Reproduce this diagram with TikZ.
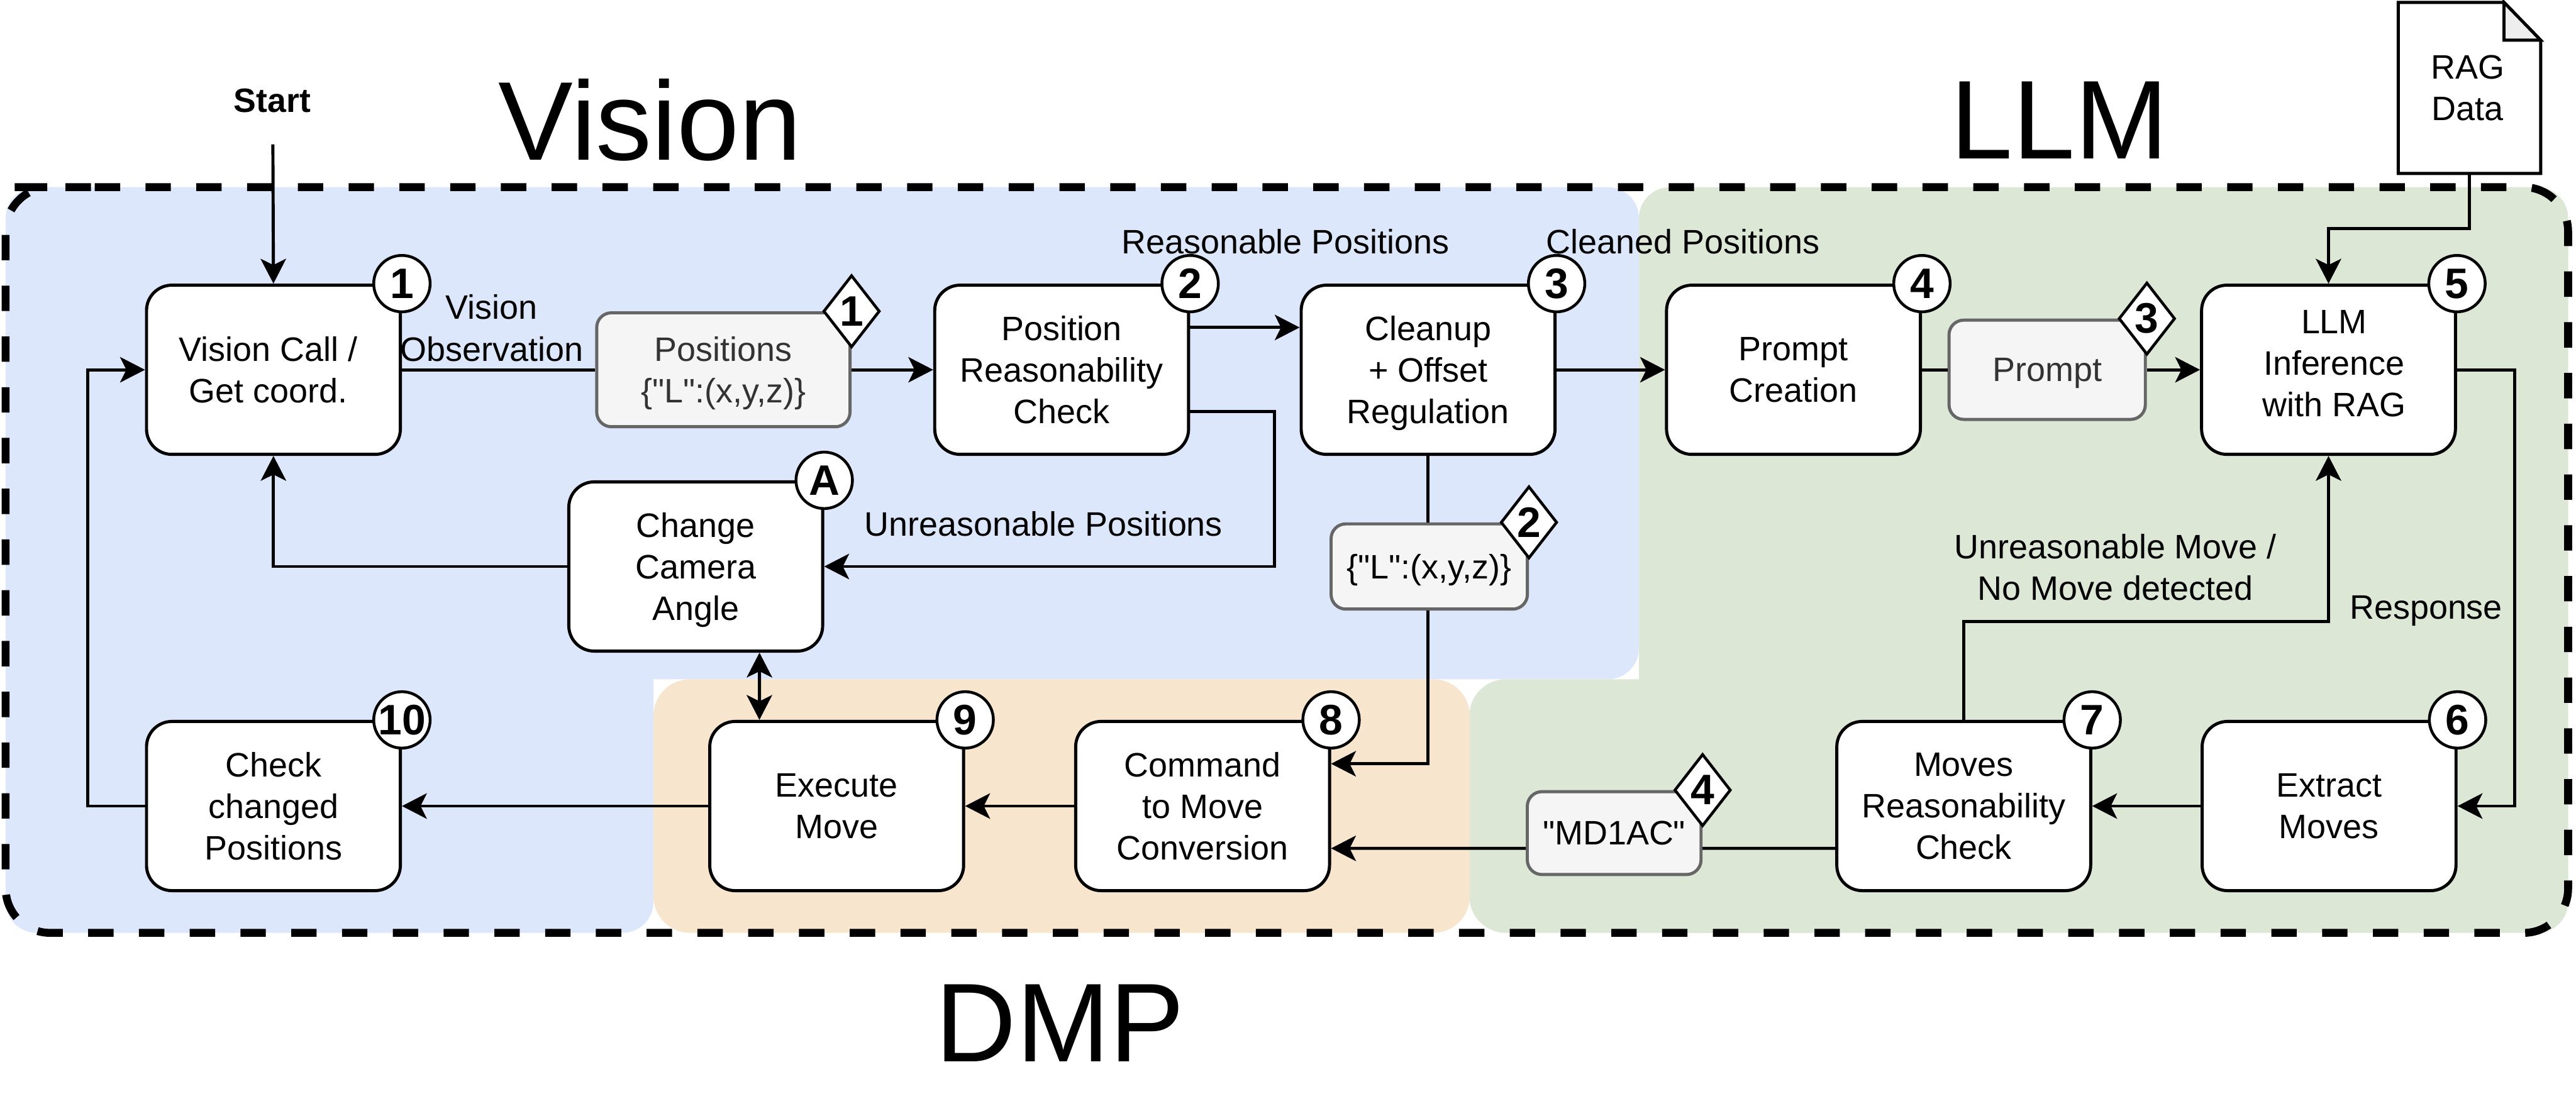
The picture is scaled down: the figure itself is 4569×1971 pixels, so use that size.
\documentclass[tikz,border=0pt]{standalone}
\usepackage{fontspec}
\setmainfont{Liberation Sans}
\newfontfamily\qfont{Liberation Sans}
\usetikzlibrary{arrows.meta,shapes.geometric}
\definecolor{bluebg}{HTML}{DCE7FB}
\definecolor{greenbg}{HTML}{DCE7D6}
\definecolor{orangebg}{HTML}{F8E5CE}
\definecolor{greyfill}{HTML}{F5F5F5}
\definecolor{greyline}{HTML}{666666}
\definecolor{greytext}{HTML}{333333}
\definecolor{foldfill}{HTML}{EEEEEE}
\newcommand{\bodyfont}{\fontsize{17.1}{21}\selectfont}
\newcommand{\numfont}{\fontsize{21.5}{24}\selectfont\bfseries}
\newcommand{\bigfont}{\fontsize{56.5}{60}\selectfont}
\newcommand{\nodepth}[1]{\raisebox{0pt}[\height][0pt]{#1}}
\tikzset{
  bgshape/.style={rounded corners=0.55cm},
  procbox/.style={draw=black,fill=white,line width=0.055cm,rounded corners=0.45cm,
    minimum width=4.5cm,minimum height=3cm,inner sep=0pt,align=center,font=\bodyfont},
  databox/.style={draw=greyline,fill=greyfill,line width=0.055cm,rounded corners=0.26cm,
    inner sep=0pt,align=center,font=\bodyfont\qfont},
  numc/.style={circle,draw=black,fill=white,line width=0.05cm,minimum size=1cm,inner sep=0pt,font=\numfont},
  numd/.style={diamond,aspect=0.78,draw=black,fill=white,line width=0.05cm,minimum width=1cm,minimum height=1.28cm,inner sep=0pt,font=\numfont},
  lab/.style={inner sep=0pt,align=center,font=\bodyfont},
  biglab/.style={inner sep=0pt,font=\bigfont},
  conn/.style={draw=black,line width=0.055cm},
  arr/.style={conn,-{Stealth[length=0.44cm,width=0.45cm,inset=0.11cm]}},
  dbl/.style={conn,{Stealth[length=0.44cm,width=0.45cm,inset=0.11cm]}-{Stealth[length=0.44cm,width=0.45cm,inset=0.11cm]}},
  outer/.style={draw=black,line width=0.14cm,dash pattern=on 0.45cm off 0.45cm,rounded corners=0.79cm},
}
\begin{document}
\begin{tikzpicture}[x=0.01cm,y=-0.01cm]
\useasboundingbox (0,0) rectangle (4569,1971);
% coloured regions
\fill[bluebg,bgshape] (10,332) rectangle (2907,1205);
\fill[bluebg,bgshape] (10,700) rectangle (1159,1655);
\fill[greenbg,bgshape] (2907,332) rectangle (4555,1655);
\fill[greenbg,rounded corners=0.65cm] (2606,1205) rectangle (3300,1655);
\fill[orangebg,rounded corners=0.65cm] (1159,1205) rectangle (2607,1655);
% outer dashed frame
\draw[outer] (89,332) -- (4555,332) -- (4555,1655) -- (10,1655) -- (10,332) -- cycle;
% titles
\node[biglab] (tvision) at (1153,213) {Vision};
\node[biglab] (tllm) at (3653,213) {LLM};
\node[biglab] (tdmp) at (1880,1815) {DMP};
% process boxes
\node[procbox] (b1) at (485,656) {Vision Call /\rule{0.18cm}{0pt}\\Get coord.\rule{0.18cm}{0pt}};
\node[procbox] (b2) at (1883,656) {Position\\Reasonability\\Check};
\node[procbox] (b3) at (2533,656) {Cleanup\\+ Offset\\\nodepth{Regulation}};
\node[procbox] (b4) at (3181,656) {Prompt\\Creation};
\node[procbox] (b5) at (4130,656) {};
\node[lab] (b5t) at (4140,645) {LLM\\Inference\\with RAG};
\node[procbox] (ba) at (1234,1005) {Change\\Camera\\\nodepth{Angle}};
\node[procbox] (b6) at (4131,1430) {Extract\\Moves};
\node[procbox] (b7) at (3483,1430) {Moves\\Reasonability\\Check};
\node[procbox] (b8) at (2133,1430) {Command\\to Move\\Conversion};
\node[procbox] (b9) at (1484,1430) {Execute\\Move};
\node[procbox] (b10) at (485,1430) {Check\\changed\\Positions};
% data boxes
\node[databox,text=greytext,minimum width=4.49cm,minimum height=2.02cm] (d1) at (1283,656) {Positions\\\nodepth{\{"L":(x,y,z)\}}};
\node[databox,minimum width=3.48cm,minimum height=1.51cm] (d2) at (2535,1005) {\nodepth{\{"L":(x,y,z)\}}};
\node[databox,text=greytext,minimum width=3.48cm,minimum height=1.76cm] (d3) at (3631,656) {\nodepth{Prompt}};
\node[databox,minimum width=3.08cm,minimum height=1.47cm] (d4) at (2863,1478) {"MD1AC"};
% RAG document
\node[inner sep=0pt,minimum width=2.51cm,minimum height=3.02cm,align=center,font=\bodyfont] (rag) at (4380,156) {};
\draw[line width=0.055cm,fill=white,line join=miter] (rag.north west) -- ([xshift=-0.65cm]rag.north east) -- ([yshift=-0.67cm]rag.north east) -- (rag.south east) -- (rag.south west) -- cycle;
\draw[line width=0.055cm,fill=foldfill,line join=miter] ([xshift=-0.65cm]rag.north east) -- ([xshift=-0.65cm,yshift=-0.67cm]rag.north east) -- ([yshift=-0.67cm]rag.north east) -- cycle;
\node[lab] (ragt) at (4377,156) {RAG\\Data};
% connectors
\coordinate (startc) at (484,256);
\draw[arr] (startc) -- (b1.north);
\draw[conn] (b1.east) -- (d1.west);
\draw[arr] (d1.east) -- (b2.west);
\draw[arr] ([yshift=0.75cm]b2.east) -- ([yshift=0.75cm]b3.west);
\draw[arr] ([yshift=-0.74cm]b2.east) -- ++(150,0) |- (ba.east);
\draw[arr] (b3.east) -- (b4.west);
\draw[conn] (b4.east) -- (d3.west);
\draw[arr] (d3.east) -- (b5.west);
\draw[arr] (rag.south) -- ++(0,98) -| (b5.north);
\draw[arr] (b5.east) -- ++(102,0) |- (b6.east);
\draw[arr] (b6.west) -- (b7.east);
\draw[arr] (b7.north) -- ++(0,-175) -| (b5.south);
\draw[conn] ([yshift=-0.75cm]b7.west) -- ([yshift=-0.27cm]d4.east);
\draw[arr] ([yshift=-0.27cm]d4.west) -- ([yshift=-0.75cm]b8.east);
\draw[conn] (b3.south) -- (b3.south |- d2.north);
\draw[arr] (b3.south |- d2.south) |- ([yshift=0.75cm]b8.east);
\draw[arr] (b8.west) -- (b9.east);
\draw[arr] (b9.west) -- (b10.east);
\draw[arr] (b10.west) -- ++(-101,0) |- (b1.west);
\draw[arr] (ba.west) -| (b1.south);
\draw[dbl] ([xshift=1.13cm]ba.south) -- ([xshift=-1.37cm]b9.north);
% number badges
\node[numc] (n1) at (b1.north east) {1};
\node[numc] (n2) at (b2.north east) {2};
\node[numc] (n3) at (b3.north east) {3};
\node[numc] (n4) at (b4.north east) {4};
\node[numc] (n5) at (b5.north east) {5};
\node[numc] (n6) at (b6.north east) {6};
\node[numc] (n7) at (b7.north east) {7};
\node[numc] (n8) at (b8.north east) {8};
\node[numc] (n9) at (b9.north east) {9};
\node[numc] (n10) at (b10.north east) {10};
\node[numc] (na) at (ba.north east) {A};
\node[numd] (m1) at (d1.north east) {1};
\node[numd] (m2) at (d2.north east) {2};
\node[numd] (m3) at (d3.north east) {3};
\node[numd] (m4) at (d4.north east) {4};
% labels
\node[lab,font=\fontsize{17}{21}\selectfont\bfseries] (lstart) at (483,179) {Start};
\node[lab] (l1) at (872,582) {Vision\\Observation};
\node[lab] (l2) at (2280,429) {Reasonable Positions};
\node[lab] (l3) at (2985,429) {Cleaned Positions};
\node[lab] (l4) at (1851,929) {Unreasonable Positions};
\node[lab] (l5) at (3752,1006) {Unreasonable Move /\\No Move detected};
\node[lab] (l6) at (4303,1084) {Response};
\end{tikzpicture}
\end{document}
